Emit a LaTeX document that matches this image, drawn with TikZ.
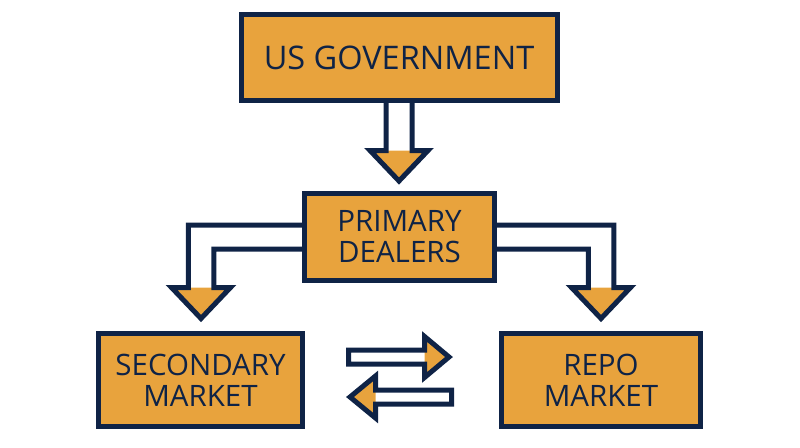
\documentclass[tikz,border=0pt]{standalone}
\usepackage{fontspec}
\setmainfont{Open Sans}
\usepackage{tikz}
\usetikzlibrary{backgrounds}

\definecolor{navy}{HTML}{0F2346}
\definecolor{gold}{HTML}{E8A33D}

\begin{document}
\begin{tikzpicture}[x=1pt,y=-1pt,
    box/.style={draw=navy, fill=gold, line width=5pt, text=navy, align=center, inner sep=0pt},
    bigtext/.style={font=\fontsize{32.5}{36}\selectfont},
    boxtext/.style={font=\fontsize{29.5}{31}\selectfont},
    outline/.style={draw=navy, line width=5pt, line join=miter}]
  \useasboundingbox (0,0) rectangle (800,447);
  % boxes
  \node[box, bigtext, minimum width=316pt, minimum height=86pt] (gov) at (399,57.5) {US GOVERNMENT};
  \node[box, boxtext, minimum width=190pt, minimum height=87pt] (dealers) at (399.5,237) {PRIMARY\\DEALERS};
  \node[box, boxtext, minimum width=204pt, minimum height=93pt] (secondary) at (200.5,380) {SECONDARY\\MARKET};
  \node[box, boxtext, minimum width=199pt, minimum height=93pt] (repo) at (601,380) {REPO\\MARKET};
  \coordinate (swap) at (400,377);
  % block arrows, under the boxes
  \begin{scope}[on background layer]
    \begin{scope}[shift={(gov.south)}]
      \fill[gold] (-29,47.5) -- (0,78) -- (29,47.5) -- cycle;
      \draw[outline] (-13,-8) -- (-13,47.5) -- (-29,47.5) -- (0,78) -- (29,47.5) -- (13,47.5) -- (13,-8);
    \end{scope}
    \begin{scope}[shift={(dealers.west)}]
      \fill[gold] (-130.5,50.5) -- (-101,81.5) -- (-71.5,50.5) -- cycle;
      \draw[outline] (8,-12) -- (-113.75,-12) -- (-113.75,50.5) -- (-130.5,50.5) -- (-101,81.5)
        -- (-71.5,50.5) -- (-88.25,50.5) -- (-88.25,12) -- (8,12);
    \end{scope}
    \begin{scope}[shift={(dealers.east)}]
      \fill[gold] (74.5,50.5) -- (104,81.5) -- (133.5,50.5) -- cycle;
      \draw[outline] (-8,-12) -- (116.75,-12) -- (116.75,50.5) -- (133.5,50.5) -- (104,81.5)
        -- (74.5,50.5) -- (91.25,50.5) -- (91.25,12) -- (-8,12);
    \end{scope}
    \begin{scope}[shift={(swap)}]
      \fill[gold] (24.5,-40.5) -- (49,-20) -- (24.5,0.5) -- cycle;
      \draw[outline] (-51.5,-27) -- (24.5,-27) -- (24.5,-40.5) -- (49,-20) -- (24.5,0.5)
        -- (24.5,-13) -- (-51.5,-13) -- cycle;
      \fill[gold] (-24.5,-1) -- (-50,20) -- (-24.5,41) -- cycle;
      \draw[outline] (51.5,13) -- (-24.5,13) -- (-24.5,-1) -- (-50,20) -- (-24.5,41)
        -- (-24.5,27) -- (51.5,27) -- cycle;
    \end{scope}
  \end{scope}
\end{tikzpicture}
\end{document}
